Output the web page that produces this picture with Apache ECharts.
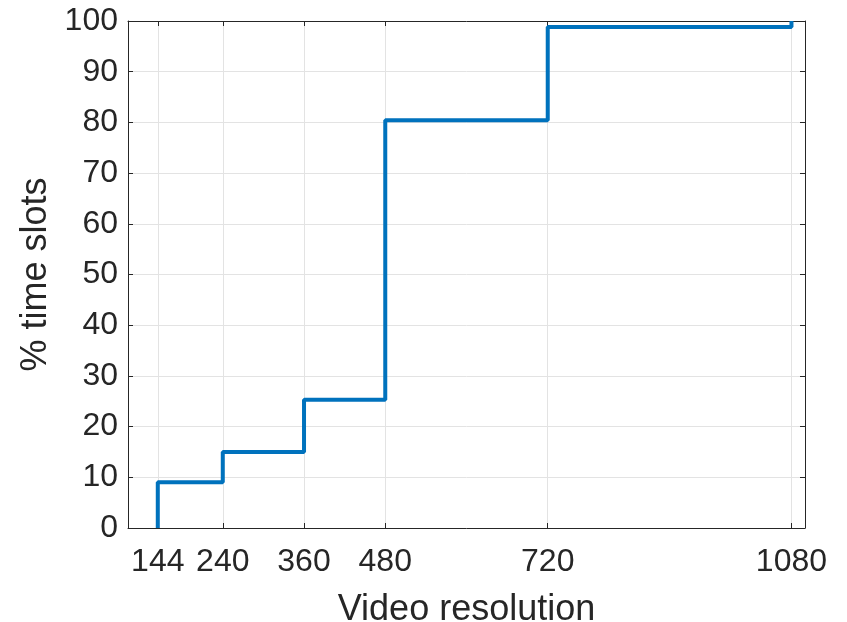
<!DOCTYPE html>
<html>
<head>
<meta charset="utf-8">
<script src="https://cdn.jsdelivr.net/npm/echarts@6/dist/echarts.min.js"></script>
<style>
  html, body { margin: 0; padding: 0; background: #fff; }
  #main { width: 847px; height: 622px; }
</style>
</head>
<body>
<div id="main"></div>
<script>
// video resolutions (x ticks) and cumulative % of time slots at each step
var resolutions = [144, 240, 360, 480, 720, 1080];
var cdfPercent = [9, 15, 25.3, 80.4, 98.8, 100];
var yTicks = [0, 10, 20, 30, 40, 50, 60, 70, 80, 90, 100];

var stepData = [[resolutions[0], 0]];
for (var i = 0; i < resolutions.length; i++) {
  stepData.push([resolutions[i], cdfPercent[i]]);
}

var txt = '#262626';
var font = 'Liberation Sans, Arial, sans-serif';

var chart = echarts.init(document.getElementById('main'));
chart.setOption({
  animation: false,
  grid: { left: 128, right: 42, top: 21, bottom: 94, containLabel: false, outerBoundsMode: 'none' },
  xAxis: [{
    type: 'value', min: 100, max: 1100,
    name: 'Video resolution', nameLocation: 'middle', nameGap: 64,
    nameTextStyle: { color: txt, fontSize: 36, fontFamily: font },
    axisLine: { show: true, lineStyle: { color: txt, width: 1 } },
    axisTick: { show: true, inside: true, length: 5, customValues: resolutions, lineStyle: { color: txt } },
    axisLabel: {
      color: txt, fontSize: 32, fontFamily: font, margin: 18, customValues: resolutions,
      formatter: function (v) { return String(v); }
    },
    splitLine: { show: true, lineStyle: { color: '#e3e3e3', width: 1 } }
  }, {
    type: 'value', min: 100, max: 1100, position: 'top',
    axisLine: { show: true, onZero: false, lineStyle: { color: txt, width: 1 } },
    axisTick: { show: true, inside: true, length: 5, customValues: resolutions, lineStyle: { color: txt } },
    axisLabel: { show: false },
    splitLine: { show: false }
  }],
  yAxis: [{
    type: 'value', min: 0, max: 100, interval: 10,
    name: '% time slots', nameLocation: 'middle', nameGap: 70,
    nameTextStyle: { color: txt, fontSize: 36, fontFamily: font },
    axisLine: { show: true, lineStyle: { color: txt, width: 1 } },
    axisTick: { show: true, inside: true, length: 5, lineStyle: { color: txt } },
    axisLabel: { color: txt, fontSize: 32, fontFamily: font, margin: 10 },
    splitLine: { show: true, lineStyle: { color: '#e3e3e3', width: 1 } }
  }, {
    type: 'value', min: 0, max: 100, interval: 10, position: 'right',
    axisLine: { show: true, onZero: false, lineStyle: { color: txt, width: 1 } },
    axisTick: { show: true, inside: true, length: 5, lineStyle: { color: txt } },
    axisLabel: { show: false },
    splitLine: { show: false }
  }],
  series: [{
    type: 'line',
    step: 'end',
    data: stepData,
    showSymbol: false,
    clip: false,
    lineStyle: { color: '#0072BD', width: 4 },
    z: 5
  }]
});
</script>
</body>
</html>
